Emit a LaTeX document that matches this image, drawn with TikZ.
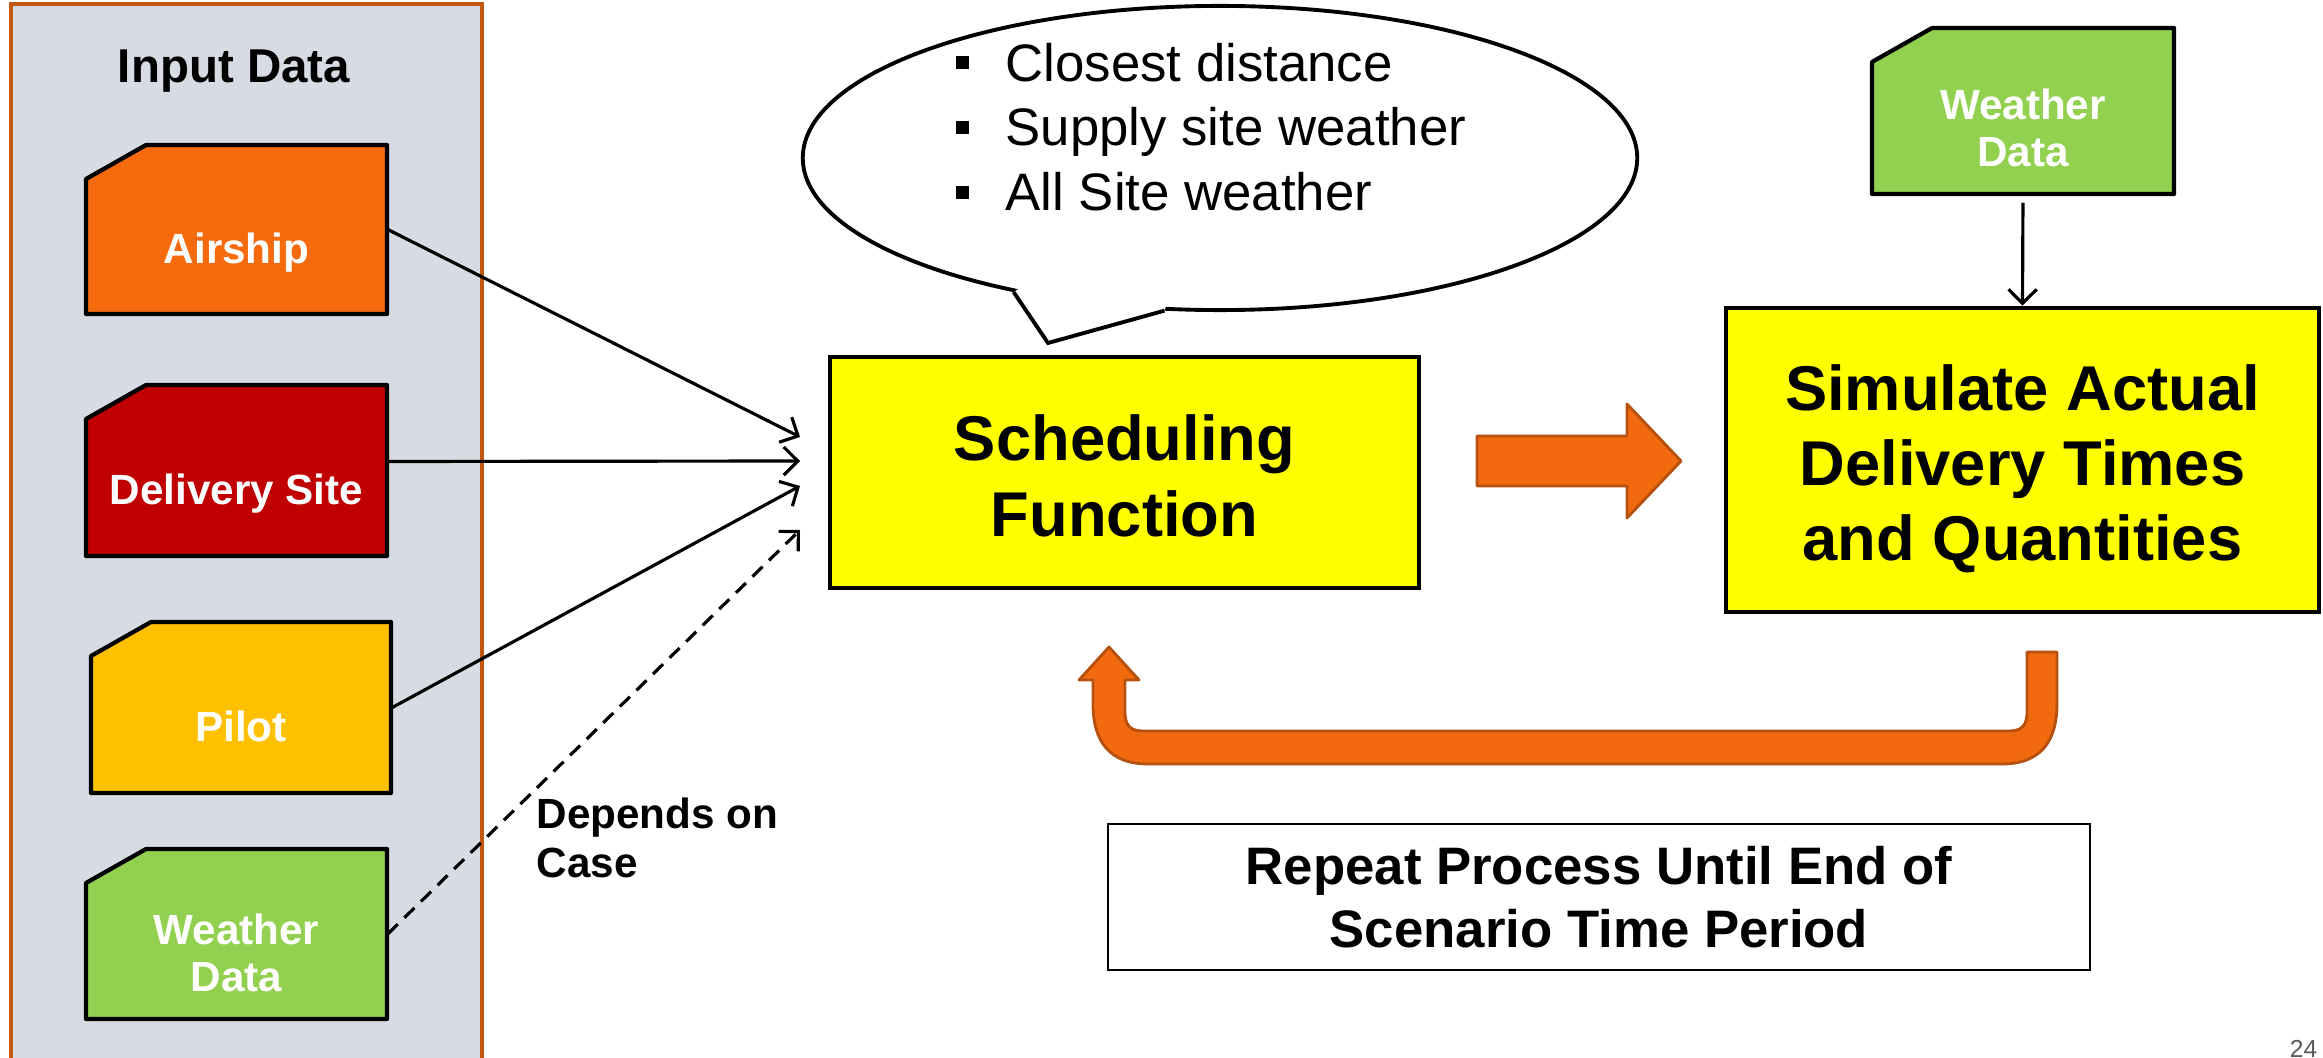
\documentclass[tikz,border=0pt]{standalone}
\usepackage{fontspec}
\setmainfont{Liberation Sans}
\usetikzlibrary{arrows.meta,shapes.geometric}
\definecolor{panelgray}{HTML}{D7DBE3}
\definecolor{panelrim}{HTML}{C0580F}
\definecolor{airship}{HTML}{F46A0D}
\definecolor{delivery}{HTML}{C00000}
\definecolor{pilot}{HTML}{FFC000}
\definecolor{weather}{HTML}{92D050}
\definecolor{procyellow}{HTML}{FFFF00}
\definecolor{flowfill}{HTML}{F26A0E}
\definecolor{flowrim}{HTML}{B5500F}
\definecolor{pagegray}{HTML}{595959}
\tikzset{
  panel/.style={draw=panelrim, fill=panelgray, line width=1.1pt},
  paneltitle/.style={font=\fontsize{13.5}{16}\selectfont\bfseries},
  card/.style={draw=black, line width=1.2pt, line join=round},
  cardnode/.style={minimum width=3.01cm, minimum height=1.69cm, inner sep=0pt},
  cardtext/.style={text=white, align=center, inner sep=0pt, font=\fontsize{12}{13.4}\selectfont\bfseries},
  feed/.style={-{Straight Barb[length=4pt,width=8pt]}, line width=0.9pt},
  process/.style={draw=black, fill=procyellow, line width=1.3pt, align=center, inner sep=0pt, font=\fontsize{18}{21.4}\selectfont\bfseries},
  note/.style={draw=black, line width=0.6pt, align=center, inner sep=0pt, font=\fontsize{15}{17.9}\selectfont\bfseries},
  flow/.style={draw=flowrim, fill=flowfill, line width=0.8pt, line join=round},
  bubble/.style={ellipse, draw=black, fill=white, line width=1.1pt, inner sep=0pt, minimum width=8.34cm, minimum height=3.04cm}
}
\begin{document}
\begin{tikzpicture}[x=0.01cm, y=-0.01cm]
  \useasboundingbox (0,0) rectangle (2323,1058);
  % input data panel
  \filldraw[panel] (11,4) rectangle (482,1080);
  \node[paneltitle] (inputs) at (234,71) {Input Data};

  % data cards
  \filldraw[card, fill=airship] (86,179) -- (146,145) -- (387,145) -- (387,314) -- (86,314) -- cycle;
  \node[cardnode] (airship) at (236.5,229.5) {};
  \node[cardtext] (airship-t) at (236.5,253) {Airship};
  \filldraw[card, fill=delivery] (86,419) -- (146,385) -- (387,385) -- (387,556) -- (86,556) -- cycle;
  \node[cardnode] (delivery) at (236.5,470.5) {};
  \node[cardtext] (delivery-t) at (236.5,494) {Delivery Site};
  \filldraw[card, fill=pilot] (91,656) -- (151,622) -- (391,622) -- (391,793) -- (91,793) -- cycle;
  \node[cardnode] (pilot) at (241,707.5) {};
  \node[cardtext] (pilot-t) at (241,726) {Pilot};
  \filldraw[card, fill=weather] (86,883) -- (146,849) -- (387,849) -- (387,1019) -- (86,1019) -- cycle;
  \node[cardnode] (wx) at (236.5,934) {};
  \node[cardtext] (wx-t) at (236.5,953) {Weather\\Data};
  \filldraw[card, fill=weather] (1872,62) -- (1932,28) -- (2174,28) -- (2174,194) -- (1872,194) -- cycle;
  \node[cardnode, minimum height=1.66cm] (wx2) at (2023,111) {};
  \node[cardtext] (wx2-t) at (2023,128) {Weather\\Data};

  % process boxes
  \node[process, minimum width=5.89cm, minimum height=2.31cm] (sched) at (1124.5,472.5) {};
  \node[process, draw=none, fill=none] (sched-t) at (1124.5,476) {Scheduling\\Function};
  \node[process, minimum width=5.93cm, minimum height=3.04cm] (sim) at (2022.5,460) {};
  \node[process, draw=none, fill=none] (sim-t) at (2022.5,469) {Simulate Actual\\Delivery Times\\and Quantities};
  \node[note, minimum width=9.82cm, minimum height=1.46cm] (repeat) at (1599,897) {Repeat Process Until End of\\Scenario Time Period};

  % callout
  \node[bubble] (bubble) at (1220,158) {};
  \coordinate (bubble-tip) at (1048,343);
  \fill[white] (bubble.213) -- (bubble-tip) -- (bubble.250) -- (bubble.center) -- cycle;
  \draw[line width=1.1pt] (bubble.213) -- (bubble-tip) -- (bubble.250);
  \node[anchor=west, align=left, inner sep=0pt, font=\fontsize{15}{18.4}\selectfont] (criteria) at (955,127)
    {\rule[0.12cm]{0.13cm}{0.13cm}\hspace{0.37cm}Closest distance\\
     \rule[0.12cm]{0.13cm}{0.13cm}\hspace{0.37cm}Supply site weather\\
     \rule[0.12cm]{0.13cm}{0.13cm}\hspace{0.37cm}All Site weather};

  % inputs into scheduling
  \coordinate (in-air) at (800,437);
  \coordinate (in-del) at (800,461);
  \coordinate (in-pil) at (800,486);
  \coordinate (in-wx) at (800,530);
  \draw[feed] (airship.east) -- (in-air);
  \draw[feed] ([yshift=0.09cm]delivery.east) -- (in-del);
  \draw[feed] (pilot.east) -- (in-pil);
  \draw[feed, dash pattern=on 4pt off 2.6pt] (wx.east) -- (in-wx);
  \node[anchor=west, align=left, inner sep=0pt, font=\fontsize{12}{13.9}\selectfont\bfseries] (depends) at (536,838) {Depends on\\Case};
  \draw[feed, shorten <=0.08cm] (wx2.south) -- (sim.north);

  % block arrows
  \filldraw[flow] (1477,436) -- (1627,436) -- (1627,404) -- (1681,461) -- (1627,518) -- (1627,486) -- (1477,486) -- cycle;
  \filldraw[flow] (2027,652) -- (2057,652) -- (2057,704) .. controls (2057,742) and (2040,764) .. (2002,764)
    -- (1148,764) .. controls (1110,764) and (1093,742) .. (1093,704) -- (1093,680) -- (1079,680) -- (1109,647)
    -- (1139,680) -- (1125,680) -- (1125,712) .. controls (1125,725) and (1130,731) .. (1143,731)
    -- (2009,731) .. controls (2022,731) and (2027,725) .. (2027,712) -- cycle;

  % page number
  \node[anchor=base east, inner sep=0pt, text=pagegray, font=\fontsize{7}{8}\selectfont] (pageno) at (2318,1057) {24};
\end{tikzpicture}
\end{document}
